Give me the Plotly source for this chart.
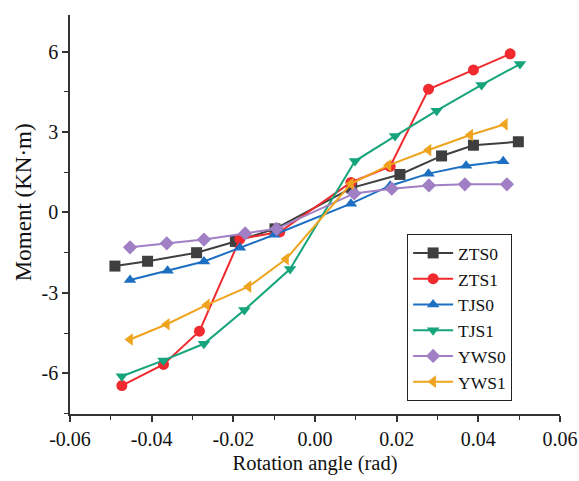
import plotly.graph_objects as go

# Moment–rotation curves for six joint specimens
zts0_x = [-0.049, -0.041, -0.029, -0.0195, -0.0098, 0.009, 0.0208, 0.031, 0.0388, 0.0498]
zts0_y = [-2.0, -1.82, -1.5, -1.08, -0.61, 0.92, 1.42, 2.11, 2.51, 2.64]

zts1_x = [-0.0473, -0.0371, -0.0283, -0.0184, -0.0086, 0.0088, 0.0184, 0.0278, 0.0388, 0.0478]
zts1_y = [-6.46, -5.67, -4.43, -0.99, -0.72, 1.12, 1.72, 4.6, 5.32, 5.92]

tjs0_x = [-0.0453, -0.0361, -0.0272, -0.0184, -0.0100, 0.0088, 0.0184, 0.0278, 0.037, 0.0461]
tjs0_y = [-2.52, -2.17, -1.83, -1.32, -0.83, 0.33, 1.0, 1.45, 1.74, 1.91]

tjs1_x = [-0.0473, -0.0371, -0.0272, -0.0173, -0.0061, 0.0098, 0.0196, 0.0298, 0.0408, 0.0502]
tjs1_y = [-6.11, -5.52, -4.9, -3.64, -2.11, 1.92, 2.85, 3.8, 4.76, 5.54]

yws0_x = [-0.0453, -0.0363, -0.0272, -0.0171, -0.0094, 0.0096, 0.0188, 0.0279, 0.0367, 0.047]
yws0_y = [-1.3, -1.15, -1.01, -0.78, -0.61, 0.71, 0.89, 1.01, 1.05, 1.05]

yws1_x = [-0.0453, -0.0363, -0.0265, -0.0163, -0.0071, 0.0088, 0.018, 0.0278, 0.038, 0.0465]
yws1_y = [-4.74, -4.17, -3.45, -2.77, -1.74, 1.07, 1.76, 2.33, 2.89, 3.29]

series_names = ["ZTS0", "ZTS1", "TJS0", "TJS1", "YWS0", "YWS1"]

x_tick_vals = [-0.06, -0.04, -0.02, 0.0, 0.02, 0.04, 0.06]
x_tick_text = ["-0.06", "-0.04", "-0.02", "0.00", "0.02", "0.04", "0.06"]
y_tick_vals = [-6, -3, 0, 3, 6]
y_tick_text = ["-6", "-3", "0", "3", "6"]

xs = [zts0_x, zts1_x, tjs0_x, tjs1_x, yws0_x, yws1_x]
ys = [zts0_y, zts1_y, tjs0_y, tjs1_y, yws0_y, yws1_y]
colors = ["#3f3f3f", "#f02a2e", "#1c6fc1", "#16a47b", "#a07fc4", "#eea41e"]
symbols = ["square", "circle", "triangle-up", "triangle-down", "diamond", "triangle-left"]

fig = go.Figure()
for name, x, y, c, s in zip(series_names, xs, ys, colors, symbols):
    fig.add_trace(go.Scatter(
        x=x, y=y, name=name, mode="lines+markers",
        line=dict(color=c, width=2),
        marker=dict(symbol=s, size=11, color=c),
    ))

font = "Liberation Serif, Times New Roman, serif"
axis_common = dict(
    showline=True, linecolor="#333333", linewidth=1.5,
    ticks="outside", ticklen=6, tickwidth=1.5, tickcolor="#333333",
    showgrid=False, zeroline=False, mirror=False, automargin=False,
    tickfont=dict(family=font, size=20, color="#111111"),
)

fig.update_layout(
    width=579, height=481,
    margin=dict(l=70, r=19, t=15, b=67),
    paper_bgcolor="white", plot_bgcolor="white",
    font=dict(family=font, size=19, color="#111111"),
    showlegend=True,
    legend=dict(
        x=0.688, y=0.451, xanchor="left", yanchor="top",
        bordercolor="#222222", borderwidth=1, bgcolor="white",
        font=dict(family=font, size=17.5, color="#111111"),
        itemwidth=40,
    ),
    xaxis=dict(
        range=[-0.06, 0.06], tickvals=x_tick_vals, ticktext=x_tick_text,
        minor=dict(dtick=0.01, tick0=-0.06, ticks="outside", ticklen=4, tickwidth=1.2, tickcolor="#333333"),
        title=dict(text="Rotation angle (rad)", font=dict(family=font, size=20.5), standoff=7),
        **axis_common,
    ),
    yaxis=dict(
        range=[-7.52, 7.37], tickvals=y_tick_vals, ticktext=y_tick_text,
        minor=dict(dtick=1.5, tick0=0, ticks="outside", ticklen=4, tickwidth=1.2, tickcolor="#333333"),
        **axis_common,
    ),
    annotations=[dict(
        text="Moment (KN·m)", textangle=-90, showarrow=False,
        xref="paper", yref="paper", x=-0.0959, y=0.531,
        xanchor="center", yanchor="middle",
        font=dict(family=font, size=23, color="#111111"),
    )],
)

fig.write_html("out.html")
